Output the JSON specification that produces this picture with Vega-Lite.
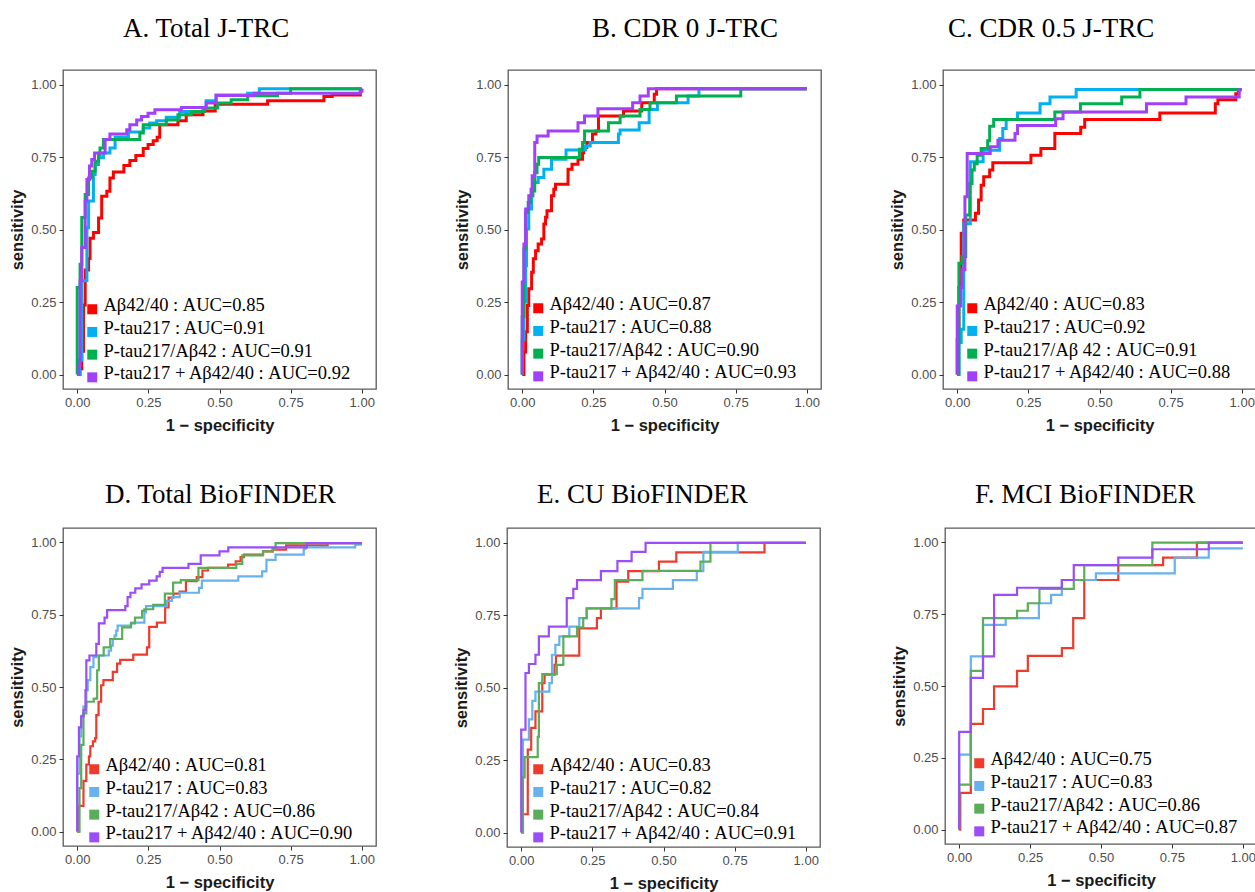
{
"$schema": "https://vega.github.io/schema/vega-lite/v6.json",
"background": "white",
"padding": {"left": 9, "top": 14, "right": 0, "bottom": 0},
"config": {
  "view": {"stroke": "#5A5A5A", "strokeWidth": 1.3},
  "axis": {"domain": false, "grid": false, "tickColor": "#333333", "tickSize": 4, "tickWidth": 1, "labelFont": "Liberation Sans", "labelFontSize": 13, "labelColor": "#4D4D4D", "labelPadding": 3, "titleFont": "Liberation Sans", "titleFontSize": 16.5, "titleFontWeight": "bold", "titleColor": "#1A1A1A"},
  "axisX": {"titlePadding": 8},
  "axisY": {"titlePadding": 5},
  "title": {"font": "Liberation Serif", "fontSize": 27, "fontWeight": "normal", "color": "black", "anchor": "start", "frame": "group", "offset": 27},
  "legend": {"orient": "none", "title": null, "symbolType": "square", "symbolSize": 25, "symbolStrokeWidth": 5, "labelFont": "Liberation Serif", "labelFontSize": 18.5, "labelColor": "black", "labelLimit": 600, "rowPadding": -3.3, "labelOffset": 2, "padding": 0}
},
"datasets": {
  "A": [
    {"s":"Aβ42/40 : AUC=0.85","i":0,"x":0,"y":0},{"s":"Aβ42/40 : AUC=0.85","i":1,"x":0.010,"y":0.02},{"s":"Aβ42/40 : AUC=0.85","i":2,"x":0.016,"y":0.08},{"s":"Aβ42/40 : AUC=0.85","i":3,"x":0.022,"y":0.24},{"s":"Aβ42/40 : AUC=0.85","i":4,"x":0.028,"y":0.36},{"s":"Aβ42/40 : AUC=0.85","i":5,"x":0.040,"y":0.40},{"s":"Aβ42/40 : AUC=0.85","i":6,"x":0.045,"y":0.47},{"s":"Aβ42/40 : AUC=0.85","i":7,"x":0.057,"y":0.49},{"s":"Aβ42/40 : AUC=0.85","i":8,"x":0.075,"y":0.54},{"s":"Aβ42/40 : AUC=0.85","i":9,"x":0.086,"y":0.615},{"s":"Aβ42/40 : AUC=0.85","i":10,"x":0.104,"y":0.632},{"s":"Aβ42/40 : AUC=0.85","i":11,"x":0.115,"y":0.678},{"s":"Aβ42/40 : AUC=0.85","i":12,"x":0.127,"y":0.698},{"s":"Aβ42/40 : AUC=0.85","i":13,"x":0.164,"y":0.721},{"s":"Aβ42/40 : AUC=0.85","i":14,"x":0.185,"y":0.738},{"s":"Aβ42/40 : AUC=0.85","i":15,"x":0.206,"y":0.755},{"s":"Aβ42/40 : AUC=0.85","i":16,"x":0.232,"y":0.779},{"s":"Aβ42/40 : AUC=0.85","i":17,"x":0.249,"y":0.793},{"s":"Aβ42/40 : AUC=0.85","i":18,"x":0.267,"y":0.806},{"s":"Aβ42/40 : AUC=0.85","i":19,"x":0.281,"y":0.818},{"s":"Aβ42/40 : AUC=0.85","i":20,"x":0.290,"y":0.861},{"s":"Aβ42/40 : AUC=0.85","i":21,"x":0.354,"y":0.875},{"s":"Aβ42/40 : AUC=0.85","i":22,"x":0.383,"y":0.896},{"s":"Aβ42/40 : AUC=0.85","i":23,"x":0.442,"y":0.909},{"s":"Aβ42/40 : AUC=0.85","i":24,"x":0.485,"y":0.932},{"s":"Aβ42/40 : AUC=0.85","i":25,"x":0.669,"y":0.944},{"s":"Aβ42/40 : AUC=0.85","i":26,"x":0.867,"y":0.959},{"s":"Aβ42/40 : AUC=0.85","i":27,"x":0.896,"y":0.964},{"s":"Aβ42/40 : AUC=0.85","i":28,"x":0.995,"y":0.978},{"s":"Aβ42/40 : AUC=0.85","i":29,"x":1.0,"y":0.985},
    {"s":"P-tau217 : AUC=0.91","i":0,"x":0,"y":0},{"s":"P-tau217 : AUC=0.91","i":1,"x":0.008,"y":0.05},{"s":"P-tau217 : AUC=0.91","i":2,"x":0.016,"y":0.323},{"s":"P-tau217 : AUC=0.91","i":3,"x":0.034,"y":0.506},{"s":"P-tau217 : AUC=0.91","i":4,"x":0.040,"y":0.598},{"s":"P-tau217 : AUC=0.91","i":5,"x":0.057,"y":0.690},{"s":"P-tau217 : AUC=0.91","i":6,"x":0.063,"y":0.724},{"s":"P-tau217 : AUC=0.91","i":7,"x":0.075,"y":0.747},{"s":"P-tau217 : AUC=0.91","i":8,"x":0.092,"y":0.764},{"s":"P-tau217 : AUC=0.91","i":9,"x":0.115,"y":0.781},{"s":"P-tau217 : AUC=0.91","i":10,"x":0.133,"y":0.818},{"s":"P-tau217 : AUC=0.91","i":11,"x":0.180,"y":0.836},{"s":"P-tau217 : AUC=0.91","i":12,"x":0.232,"y":0.850},{"s":"P-tau217 : AUC=0.91","i":13,"x":0.255,"y":0.867},{"s":"P-tau217 : AUC=0.91","i":14,"x":0.279,"y":0.875},{"s":"P-tau217 : AUC=0.91","i":15,"x":0.313,"y":0.887},{"s":"P-tau217 : AUC=0.91","i":16,"x":0.360,"y":0.907},{"s":"P-tau217 : AUC=0.91","i":17,"x":0.442,"y":0.919},{"s":"P-tau217 : AUC=0.91","i":18,"x":0.453,"y":0.944},{"s":"P-tau217 : AUC=0.91","i":19,"x":0.488,"y":0.964},{"s":"P-tau217 : AUC=0.91","i":20,"x":0.599,"y":0.970},{"s":"P-tau217 : AUC=0.91","i":21,"x":0.640,"y":0.985},{"s":"P-tau217 : AUC=0.91","i":22,"x":1.0,"y":0.985},
    {"s":"P-tau217/Aβ42 : AUC=0.91","i":0,"x":0,"y":0},{"s":"P-tau217/Aβ42 : AUC=0.91","i":1,"x":0,"y":0.30},{"s":"P-tau217/Aβ42 : AUC=0.91","i":2,"x":0.010,"y":0.38},{"s":"P-tau217/Aβ42 : AUC=0.91","i":3,"x":0.016,"y":0.541},{"s":"P-tau217/Aβ42 : AUC=0.91","i":4,"x":0.028,"y":0.621},{"s":"P-tau217/Aβ42 : AUC=0.91","i":5,"x":0.040,"y":0.678},{"s":"P-tau217/Aβ42 : AUC=0.91","i":6,"x":0.051,"y":0.701},{"s":"P-tau217/Aβ42 : AUC=0.91","i":7,"x":0.063,"y":0.735},{"s":"P-tau217/Aβ42 : AUC=0.91","i":8,"x":0.075,"y":0.758},{"s":"P-tau217/Aβ42 : AUC=0.91","i":9,"x":0.080,"y":0.781},{"s":"P-tau217/Aβ42 : AUC=0.91","i":10,"x":0.092,"y":0.810},{"s":"P-tau217/Aβ42 : AUC=0.91","i":11,"x":0.220,"y":0.833},{"s":"P-tau217/Aβ42 : AUC=0.91","i":12,"x":0.232,"y":0.861},{"s":"P-tau217/Aβ42 : AUC=0.91","i":13,"x":0.313,"y":0.878},{"s":"P-tau217/Aβ42 : AUC=0.91","i":14,"x":0.354,"y":0.896},{"s":"P-tau217/Aβ42 : AUC=0.91","i":15,"x":0.401,"y":0.907},{"s":"P-tau217/Aβ42 : AUC=0.91","i":16,"x":0.448,"y":0.919},{"s":"P-tau217/Aβ42 : AUC=0.91","i":17,"x":0.494,"y":0.936},{"s":"P-tau217/Aβ42 : AUC=0.91","i":18,"x":0.541,"y":0.947},{"s":"P-tau217/Aβ42 : AUC=0.91","i":19,"x":0.599,"y":0.961},{"s":"P-tau217/Aβ42 : AUC=0.91","i":20,"x":0.704,"y":0.970},{"s":"P-tau217/Aβ42 : AUC=0.91","i":21,"x":0.750,"y":0.985},{"s":"P-tau217/Aβ42 : AUC=0.91","i":22,"x":1.0,"y":0.985},
    {"s":"P-tau217 + Aβ42/40 : AUC=0.92","i":0,"x":0,"y":0},{"s":"P-tau217 + Aβ42/40 : AUC=0.92","i":1,"x":0.005,"y":0.03},{"s":"P-tau217 + Aβ42/40 : AUC=0.92","i":2,"x":0.010,"y":0.323},{"s":"P-tau217 + Aβ42/40 : AUC=0.92","i":3,"x":0.016,"y":0.438},{"s":"P-tau217 + Aβ42/40 : AUC=0.92","i":4,"x":0.028,"y":0.598},{"s":"P-tau217 + Aβ42/40 : AUC=0.92","i":5,"x":0.034,"y":0.672},{"s":"P-tau217 + Aβ42/40 : AUC=0.92","i":6,"x":0.043,"y":0.719},{"s":"P-tau217 + Aβ42/40 : AUC=0.92","i":7,"x":0.051,"y":0.741},{"s":"P-tau217 + Aβ42/40 : AUC=0.92","i":8,"x":0.061,"y":0.764},{"s":"P-tau217 + Aβ42/40 : AUC=0.92","i":9,"x":0.098,"y":0.810},{"s":"P-tau217 + Aβ42/40 : AUC=0.92","i":10,"x":0.115,"y":0.829},{"s":"P-tau217 + Aβ42/40 : AUC=0.92","i":11,"x":0.174,"y":0.844},{"s":"P-tau217 + Aβ42/40 : AUC=0.92","i":12,"x":0.185,"y":0.861},{"s":"P-tau217 + Aβ42/40 : AUC=0.92","i":13,"x":0.209,"y":0.878},{"s":"P-tau217 + Aβ42/40 : AUC=0.92","i":14,"x":0.226,"y":0.890},{"s":"P-tau217 + Aβ42/40 : AUC=0.92","i":15,"x":0.249,"y":0.901},{"s":"P-tau217 + Aβ42/40 : AUC=0.92","i":16,"x":0.273,"y":0.913},{"s":"P-tau217 + Aβ42/40 : AUC=0.92","i":17,"x":0.366,"y":0.921},{"s":"P-tau217 + Aβ42/40 : AUC=0.92","i":18,"x":0.453,"y":0.936},{"s":"P-tau217 + Aβ42/40 : AUC=0.92","i":19,"x":0.488,"y":0.962},{"s":"P-tau217 + Aβ42/40 : AUC=0.92","i":20,"x":0.622,"y":0.970},{"s":"P-tau217 + Aβ42/40 : AUC=0.92","i":21,"x":0.995,"y":0.978},{"s":"P-tau217 + Aβ42/40 : AUC=0.92","i":22,"x":1.0,"y":0.985}
  ],
  "B": [
    {"s":"Aβ42/40 : AUC=0.87","i":0,"x":0,"y":0},{"s":"Aβ42/40 : AUC=0.87","i":1,"x":0.006,"y":0.078},{"s":"Aβ42/40 : AUC=0.87","i":2,"x":0.012,"y":0.147},{"s":"Aβ42/40 : AUC=0.87","i":3,"x":0.018,"y":0.238},{"s":"Aβ42/40 : AUC=0.87","i":4,"x":0.023,"y":0.296},{"s":"Aβ42/40 : AUC=0.87","i":5,"x":0.033,"y":0.353},{"s":"Aβ42/40 : AUC=0.87","i":6,"x":0.039,"y":0.399},{"s":"Aβ42/40 : AUC=0.87","i":7,"x":0.047,"y":0.427},{"s":"Aβ42/40 : AUC=0.87","i":8,"x":0.056,"y":0.450},{"s":"Aβ42/40 : AUC=0.87","i":9,"x":0.068,"y":0.467},{"s":"Aβ42/40 : AUC=0.87","i":10,"x":0.076,"y":0.519},{"s":"Aβ42/40 : AUC=0.87","i":11,"x":0.082,"y":0.542},{"s":"Aβ42/40 : AUC=0.87","i":12,"x":0.087,"y":0.565},{"s":"Aβ42/40 : AUC=0.87","i":13,"x":0.103,"y":0.616},{"s":"Aβ42/40 : AUC=0.87","i":14,"x":0.111,"y":0.639},{"s":"Aβ42/40 : AUC=0.87","i":15,"x":0.117,"y":0.656},{"s":"Aβ42/40 : AUC=0.87","i":16,"x":0.161,"y":0.708},{"s":"Aβ42/40 : AUC=0.87","i":17,"x":0.175,"y":0.725},{"s":"Aβ42/40 : AUC=0.87","i":18,"x":0.196,"y":0.742},{"s":"Aβ42/40 : AUC=0.87","i":19,"x":0.212,"y":0.765},{"s":"Aβ42/40 : AUC=0.87","i":20,"x":0.216,"y":0.783},{"s":"Aβ42/40 : AUC=0.87","i":21,"x":0.227,"y":0.800},{"s":"Aβ42/40 : AUC=0.87","i":22,"x":0.247,"y":0.829},{"s":"Aβ42/40 : AUC=0.87","i":23,"x":0.259,"y":0.840},{"s":"Aβ42/40 : AUC=0.87","i":24,"x":0.268,"y":0.891},{"s":"Aβ42/40 : AUC=0.87","i":25,"x":0.356,"y":0.909},{"s":"Aβ42/40 : AUC=0.87","i":26,"x":0.420,"y":0.937},{"s":"Aβ42/40 : AUC=0.87","i":27,"x":0.464,"y":0.966},{"s":"Aβ42/40 : AUC=0.87","i":28,"x":0.472,"y":0.985},{"s":"Aβ42/40 : AUC=0.87","i":29,"x":1.0,"y":0.985},
    {"s":"P-tau217 : AUC=0.88","i":0,"x":0,"y":0},{"s":"P-tau217 : AUC=0.88","i":1,"x":0,"y":0.12},{"s":"P-tau217 : AUC=0.88","i":2,"x":0.006,"y":0.25},{"s":"P-tau217 : AUC=0.88","i":3,"x":0.012,"y":0.375},{"s":"P-tau217 : AUC=0.88","i":4,"x":0.015,"y":0.502},{"s":"P-tau217 : AUC=0.88","i":5,"x":0.023,"y":0.571},{"s":"P-tau217 : AUC=0.88","i":6,"x":0.033,"y":0.616},{"s":"P-tau217 : AUC=0.88","i":7,"x":0.037,"y":0.662},{"s":"P-tau217 : AUC=0.88","i":8,"x":0.056,"y":0.679},{"s":"P-tau217 : AUC=0.88","i":9,"x":0.076,"y":0.708},{"s":"P-tau217 : AUC=0.88","i":10,"x":0.103,"y":0.742},{"s":"P-tau217 : AUC=0.88","i":11,"x":0.154,"y":0.774},{"s":"P-tau217 : AUC=0.88","i":12,"x":0.222,"y":0.788},{"s":"P-tau217 : AUC=0.88","i":13,"x":0.239,"y":0.800},{"s":"P-tau217 : AUC=0.88","i":14,"x":0.338,"y":0.829},{"s":"P-tau217 : AUC=0.88","i":15,"x":0.344,"y":0.843},{"s":"P-tau217 : AUC=0.88","i":16,"x":0.411,"y":0.868},{"s":"P-tau217 : AUC=0.88","i":17,"x":0.446,"y":0.914},{"s":"P-tau217 : AUC=0.88","i":18,"x":0.475,"y":0.937},{"s":"P-tau217 : AUC=0.88","i":19,"x":0.583,"y":0.960},{"s":"P-tau217 : AUC=0.88","i":20,"x":0.621,"y":0.985},{"s":"P-tau217 : AUC=0.88","i":21,"x":1.0,"y":0.985},
    {"s":"P-tau217/Aβ42 : AUC=0.90","i":0,"x":0,"y":0},{"s":"P-tau217/Aβ42 : AUC=0.90","i":1,"x":0,"y":0.20},{"s":"P-tau217/Aβ42 : AUC=0.90","i":2,"x":0.006,"y":0.433},{"s":"P-tau217/Aβ42 : AUC=0.90","i":3,"x":0.012,"y":0.559},{"s":"P-tau217/Aβ42 : AUC=0.90","i":4,"x":0.021,"y":0.593},{"s":"P-tau217/Aβ42 : AUC=0.90","i":5,"x":0.029,"y":0.616},{"s":"P-tau217/Aβ42 : AUC=0.90","i":6,"x":0.037,"y":0.633},{"s":"P-tau217/Aβ42 : AUC=0.90","i":7,"x":0.044,"y":0.696},{"s":"P-tau217/Aβ42 : AUC=0.90","i":8,"x":0.052,"y":0.725},{"s":"P-tau217/Aβ42 : AUC=0.90","i":9,"x":0.058,"y":0.748},{"s":"P-tau217/Aβ42 : AUC=0.90","i":10,"x":0.201,"y":0.777},{"s":"P-tau217/Aβ42 : AUC=0.90","i":11,"x":0.212,"y":0.800},{"s":"P-tau217/Aβ42 : AUC=0.90","i":12,"x":0.219,"y":0.840},{"s":"P-tau217/Aβ42 : AUC=0.90","i":13,"x":0.303,"y":0.868},{"s":"P-tau217/Aβ42 : AUC=0.90","i":14,"x":0.344,"y":0.891},{"s":"P-tau217/Aβ42 : AUC=0.90","i":15,"x":0.414,"y":0.914},{"s":"P-tau217/Aβ42 : AUC=0.90","i":16,"x":0.449,"y":0.937},{"s":"P-tau217/Aβ42 : AUC=0.90","i":17,"x":0.542,"y":0.960},{"s":"P-tau217/Aβ42 : AUC=0.90","i":18,"x":0.768,"y":0.985},{"s":"P-tau217/Aβ42 : AUC=0.90","i":19,"x":1.0,"y":0.985},
    {"s":"P-tau217 + Aβ42/40 : AUC=0.93","i":0,"x":0,"y":0},{"s":"P-tau217 + Aβ42/40 : AUC=0.93","i":1,"x":0,"y":0.319},{"s":"P-tau217 + Aβ42/40 : AUC=0.93","i":2,"x":0.006,"y":0.45},{"s":"P-tau217 + Aβ42/40 : AUC=0.93","i":3,"x":0.012,"y":0.571},{"s":"P-tau217 + Aβ42/40 : AUC=0.93","i":4,"x":0.023,"y":0.616},{"s":"P-tau217 + Aβ42/40 : AUC=0.93","i":5,"x":0.031,"y":0.639},{"s":"P-tau217 + Aβ42/40 : AUC=0.93","i":6,"x":0.035,"y":0.685},{"s":"P-tau217 + Aβ42/40 : AUC=0.93","i":7,"x":0.044,"y":0.800},{"s":"P-tau217 + Aβ42/40 : AUC=0.93","i":8,"x":0.052,"y":0.822},{"s":"P-tau217 + Aβ42/40 : AUC=0.93","i":9,"x":0.091,"y":0.840},{"s":"P-tau217 + Aβ42/40 : AUC=0.93","i":10,"x":0.196,"y":0.868},{"s":"P-tau217 + Aβ42/40 : AUC=0.93","i":11,"x":0.219,"y":0.891},{"s":"P-tau217 + Aβ42/40 : AUC=0.93","i":12,"x":0.266,"y":0.916},{"s":"P-tau217 + Aβ42/40 : AUC=0.93","i":13,"x":0.388,"y":0.937},{"s":"P-tau217 + Aβ42/40 : AUC=0.93","i":14,"x":0.414,"y":0.960},{"s":"P-tau217 + Aβ42/40 : AUC=0.93","i":15,"x":0.443,"y":0.985},{"s":"P-tau217 + Aβ42/40 : AUC=0.93","i":16,"x":1.0,"y":0.985}
  ],
  "C": [
    {"s":"Aβ42/40 : AUC=0.83","i":0,"x":0,"y":0},{"s":"Aβ42/40 : AUC=0.83","i":1,"x":0,"y":0.12},{"s":"Aβ42/40 : AUC=0.83","i":2,"x":0.006,"y":0.30},{"s":"Aβ42/40 : AUC=0.83","i":3,"x":0.014,"y":0.487},{"s":"Aβ42/40 : AUC=0.83","i":4,"x":0.023,"y":0.533},{"s":"Aβ42/40 : AUC=0.83","i":5,"x":0.064,"y":0.556},{"s":"Aβ42/40 : AUC=0.83","i":6,"x":0.075,"y":0.602},{"s":"Aβ42/40 : AUC=0.83","i":7,"x":0.084,"y":0.653},{"s":"Aβ42/40 : AUC=0.83","i":8,"x":0.093,"y":0.682},{"s":"Aβ42/40 : AUC=0.83","i":9,"x":0.114,"y":0.705},{"s":"Aβ42/40 : AUC=0.83","i":10,"x":0.125,"y":0.730},{"s":"Aβ42/40 : AUC=0.83","i":11,"x":0.259,"y":0.756},{"s":"Aβ42/40 : AUC=0.83","i":12,"x":0.294,"y":0.779},{"s":"Aβ42/40 : AUC=0.83","i":13,"x":0.343,"y":0.831},{"s":"Aβ42/40 : AUC=0.83","i":14,"x":0.434,"y":0.853},{"s":"Aβ42/40 : AUC=0.83","i":15,"x":0.448,"y":0.879},{"s":"Aβ42/40 : AUC=0.83","i":16,"x":0.712,"y":0.902},{"s":"Aβ42/40 : AUC=0.83","i":17,"x":0.907,"y":0.934},{"s":"Aβ42/40 : AUC=0.83","i":18,"x":0.916,"y":0.947},{"s":"Aβ42/40 : AUC=0.83","i":19,"x":0.979,"y":0.968},{"s":"Aβ42/40 : AUC=0.83","i":20,"x":0.988,"y":0.982},{"s":"Aβ42/40 : AUC=0.83","i":21,"x":1.0,"y":0.982},
    {"s":"P-tau217 : AUC=0.92","i":0,"x":0,"y":0},{"s":"P-tau217 : AUC=0.92","i":1,"x":0.006,"y":0.11},{"s":"P-tau217 : AUC=0.92","i":2,"x":0.014,"y":0.156},{"s":"P-tau217 : AUC=0.92","i":3,"x":0.023,"y":0.52},{"s":"P-tau217 : AUC=0.92","i":4,"x":0.046,"y":0.734},{"s":"P-tau217 : AUC=0.92","i":5,"x":0.091,"y":0.773},{"s":"P-tau217 : AUC=0.92","i":6,"x":0.149,"y":0.814},{"s":"P-tau217 : AUC=0.92","i":7,"x":0.160,"y":0.848},{"s":"P-tau217 : AUC=0.92","i":8,"x":0.172,"y":0.879},{"s":"P-tau217 : AUC=0.92","i":9,"x":0.212,"y":0.902},{"s":"P-tau217 : AUC=0.92","i":10,"x":0.291,"y":0.934},{"s":"P-tau217 : AUC=0.92","i":11,"x":0.326,"y":0.957},{"s":"P-tau217 : AUC=0.92","i":12,"x":0.418,"y":0.983},{"s":"P-tau217 : AUC=0.92","i":13,"x":1.0,"y":0.983},
    {"s":"P-tau217/Aβ 42 : AUC=0.91","i":0,"x":0,"y":0},{"s":"P-tau217/Aβ 42 : AUC=0.91","i":1,"x":0.006,"y":0.384},{"s":"P-tau217/Aβ 42 : AUC=0.91","i":2,"x":0.017,"y":0.407},{"s":"P-tau217/Aβ 42 : AUC=0.91","i":3,"x":0.030,"y":0.55},{"s":"P-tau217/Aβ 42 : AUC=0.91","i":4,"x":0.044,"y":0.659},{"s":"P-tau217/Aβ 42 : AUC=0.91","i":5,"x":0.052,"y":0.705},{"s":"P-tau217/Aβ 42 : AUC=0.91","i":6,"x":0.060,"y":0.727},{"s":"P-tau217/Aβ 42 : AUC=0.91","i":7,"x":0.070,"y":0.756},{"s":"P-tau217/Aβ 42 : AUC=0.91","i":8,"x":0.084,"y":0.779},{"s":"P-tau217/Aβ 42 : AUC=0.91","i":9,"x":0.107,"y":0.806},{"s":"P-tau217/Aβ 42 : AUC=0.91","i":10,"x":0.114,"y":0.856},{"s":"P-tau217/Aβ 42 : AUC=0.91","i":11,"x":0.128,"y":0.879},{"s":"P-tau217/Aβ 42 : AUC=0.91","i":12,"x":0.343,"y":0.905},{"s":"P-tau217/Aβ 42 : AUC=0.91","i":13,"x":0.433,"y":0.934},{"s":"P-tau217/Aβ 42 : AUC=0.91","i":14,"x":0.578,"y":0.957},{"s":"P-tau217/Aβ 42 : AUC=0.91","i":15,"x":0.642,"y":0.983},{"s":"P-tau217/Aβ 42 : AUC=0.91","i":16,"x":1.0,"y":0.983},
    {"s":"P-tau217 + Aβ42/40 : AUC=0.88","i":0,"x":0,"y":0},{"s":"P-tau217 + Aβ42/40 : AUC=0.88","i":1,"x":0,"y":0.236},{"s":"P-tau217 + Aβ42/40 : AUC=0.88","i":2,"x":0.012,"y":0.30},{"s":"P-tau217 + Aβ42/40 : AUC=0.88","i":3,"x":0.017,"y":0.361},{"s":"P-tau217 + Aβ42/40 : AUC=0.88","i":4,"x":0.027,"y":0.613},{"s":"P-tau217 + Aβ42/40 : AUC=0.88","i":5,"x":0.035,"y":0.762},{"s":"P-tau217 + Aβ42/40 : AUC=0.88","i":6,"x":0.116,"y":0.785},{"s":"P-tau217 + Aβ42/40 : AUC=0.88","i":7,"x":0.143,"y":0.808},{"s":"P-tau217 + Aβ42/40 : AUC=0.88","i":8,"x":0.203,"y":0.831},{"s":"P-tau217 + Aβ42/40 : AUC=0.88","i":9,"x":0.212,"y":0.859},{"s":"P-tau217 + Aβ42/40 : AUC=0.88","i":10,"x":0.346,"y":0.882},{"s":"P-tau217 + Aβ42/40 : AUC=0.88","i":11,"x":0.372,"y":0.905},{"s":"P-tau217 + Aβ42/40 : AUC=0.88","i":12,"x":0.665,"y":0.934},{"s":"P-tau217 + Aβ42/40 : AUC=0.88","i":13,"x":0.804,"y":0.957},{"s":"P-tau217 + Aβ42/40 : AUC=0.88","i":14,"x":0.991,"y":0.982},{"s":"P-tau217 + Aβ42/40 : AUC=0.88","i":15,"x":1.0,"y":0.982}
  ],
  "D": [
    {"s":"Aβ42/40 : AUC=0.81","i":0,"x":0,"y":0},{"s":"Aβ42/40 : AUC=0.81","i":1,"x":0.006,"y":0.089},{"s":"Aβ42/40 : AUC=0.81","i":2,"x":0.022,"y":0.175},{"s":"Aβ42/40 : AUC=0.81","i":3,"x":0.032,"y":0.232},{"s":"Aβ42/40 : AUC=0.81","i":4,"x":0.041,"y":0.26},{"s":"Aβ42/40 : AUC=0.81","i":5,"x":0.046,"y":0.295},{"s":"Aβ42/40 : AUC=0.81","i":6,"x":0.055,"y":0.312},{"s":"Aβ42/40 : AUC=0.81","i":7,"x":0.063,"y":0.323},{"s":"Aβ42/40 : AUC=0.81","i":8,"x":0.067,"y":0.403},{"s":"Aβ42/40 : AUC=0.81","i":9,"x":0.075,"y":0.449},{"s":"Aβ42/40 : AUC=0.81","i":10,"x":0.084,"y":0.506},{"s":"Aβ42/40 : AUC=0.81","i":11,"x":0.092,"y":0.524},{"s":"Aβ42/40 : AUC=0.81","i":12,"x":0.125,"y":0.552},{"s":"Aβ42/40 : AUC=0.81","i":13,"x":0.140,"y":0.581},{"s":"Aβ42/40 : AUC=0.81","i":14,"x":0.151,"y":0.594},{"s":"Aβ42/40 : AUC=0.81","i":15,"x":0.197,"y":0.612},{"s":"Aβ42/40 : AUC=0.81","i":16,"x":0.245,"y":0.637},{"s":"Aβ42/40 : AUC=0.81","i":17,"x":0.253,"y":0.708},{"s":"Aβ42/40 : AUC=0.81","i":18,"x":0.280,"y":0.723},{"s":"Aβ42/40 : AUC=0.81","i":19,"x":0.309,"y":0.775},{"s":"Aβ42/40 : AUC=0.81","i":20,"x":0.321,"y":0.809},{"s":"Aβ42/40 : AUC=0.81","i":21,"x":0.338,"y":0.823},{"s":"Aβ42/40 : AUC=0.81","i":22,"x":0.360,"y":0.830},{"s":"Aβ42/40 : AUC=0.81","i":23,"x":0.382,"y":0.866},{"s":"Aβ42/40 : AUC=0.81","i":24,"x":0.420,"y":0.880},{"s":"Aβ42/40 : AUC=0.81","i":25,"x":0.440,"y":0.903},{"s":"Aβ42/40 : AUC=0.81","i":26,"x":0.460,"y":0.912},{"s":"Aβ42/40 : AUC=0.81","i":27,"x":0.530,"y":0.923},{"s":"Aβ42/40 : AUC=0.81","i":28,"x":0.557,"y":0.935},{"s":"Aβ42/40 : AUC=0.81","i":29,"x":0.574,"y":0.949},{"s":"Aβ42/40 : AUC=0.81","i":30,"x":0.586,"y":0.958},{"s":"Aβ42/40 : AUC=0.81","i":31,"x":0.653,"y":0.969},{"s":"Aβ42/40 : AUC=0.81","i":32,"x":0.687,"y":0.975},{"s":"Aβ42/40 : AUC=0.81","i":33,"x":0.734,"y":0.990},{"s":"Aβ42/40 : AUC=0.81","i":34,"x":0.880,"y":0.998},{"s":"Aβ42/40 : AUC=0.81","i":35,"x":1.0,"y":0.998},
    {"s":"P-tau217 : AUC=0.83","i":0,"x":0,"y":0},{"s":"P-tau217 : AUC=0.83","i":1,"x":0,"y":0.20},{"s":"P-tau217 : AUC=0.83","i":2,"x":0.008,"y":0.329},{"s":"P-tau217 : AUC=0.83","i":3,"x":0.014,"y":0.40},{"s":"P-tau217 : AUC=0.83","i":4,"x":0.022,"y":0.432},{"s":"P-tau217 : AUC=0.83","i":5,"x":0.032,"y":0.489},{"s":"P-tau217 : AUC=0.83","i":6,"x":0.037,"y":0.524},{"s":"P-tau217 : AUC=0.83","i":7,"x":0.046,"y":0.569},{"s":"P-tau217 : AUC=0.83","i":8,"x":0.057,"y":0.603},{"s":"P-tau217 : AUC=0.83","i":9,"x":0.067,"y":0.609},{"s":"P-tau217 : AUC=0.83","i":10,"x":0.111,"y":0.626},{"s":"P-tau217 : AUC=0.83","i":11,"x":0.119,"y":0.643},{"s":"P-tau217 : AUC=0.83","i":12,"x":0.125,"y":0.666},{"s":"P-tau217 : AUC=0.83","i":13,"x":0.131,"y":0.678},{"s":"P-tau217 : AUC=0.83","i":14,"x":0.137,"y":0.695},{"s":"P-tau217 : AUC=0.83","i":15,"x":0.142,"y":0.712},{"s":"P-tau217 : AUC=0.83","i":16,"x":0.189,"y":0.723},{"s":"P-tau217 : AUC=0.83","i":17,"x":0.236,"y":0.758},{"s":"P-tau217 : AUC=0.83","i":18,"x":0.242,"y":0.780},{"s":"P-tau217 : AUC=0.83","i":19,"x":0.314,"y":0.798},{"s":"P-tau217 : AUC=0.83","i":20,"x":0.333,"y":0.811},{"s":"P-tau217 : AUC=0.83","i":21,"x":0.360,"y":0.826},{"s":"P-tau217 : AUC=0.83","i":22,"x":0.428,"y":0.843},{"s":"P-tau217 : AUC=0.83","i":23,"x":0.438,"y":0.868},{"s":"P-tau217 : AUC=0.83","i":24,"x":0.566,"y":0.883},{"s":"P-tau217 : AUC=0.83","i":25,"x":0.650,"y":0.900},{"s":"P-tau217 : AUC=0.83","i":26,"x":0.665,"y":0.940},{"s":"P-tau217 : AUC=0.83","i":27,"x":0.697,"y":0.958},{"s":"P-tau217 : AUC=0.83","i":28,"x":0.796,"y":0.978},{"s":"P-tau217 : AUC=0.83","i":29,"x":0.802,"y":0.983},{"s":"P-tau217 : AUC=0.83","i":30,"x":0.977,"y":0.992},{"s":"P-tau217 : AUC=0.83","i":31,"x":1.0,"y":0.992},
    {"s":"P-tau217/Aβ42 : AUC=0.86","i":0,"x":0,"y":0},{"s":"P-tau217/Aβ42 : AUC=0.86","i":1,"x":0.008,"y":0.15},{"s":"P-tau217/Aβ42 : AUC=0.86","i":2,"x":0.014,"y":0.30},{"s":"P-tau217/Aβ42 : AUC=0.86","i":3,"x":0.022,"y":0.409},{"s":"P-tau217/Aβ42 : AUC=0.86","i":4,"x":0.032,"y":0.449},{"s":"P-tau217/Aβ42 : AUC=0.86","i":5,"x":0.058,"y":0.460},{"s":"P-tau217/Aβ42 : AUC=0.86","i":6,"x":0.070,"y":0.558},{"s":"P-tau217/Aβ42 : AUC=0.86","i":7,"x":0.076,"y":0.609},{"s":"P-tau217/Aβ42 : AUC=0.86","i":8,"x":0.093,"y":0.637},{"s":"P-tau217/Aβ42 : AUC=0.86","i":9,"x":0.116,"y":0.666},{"s":"P-tau217/Aβ42 : AUC=0.86","i":10,"x":0.158,"y":0.706},{"s":"P-tau217/Aβ42 : AUC=0.86","i":11,"x":0.189,"y":0.720},{"s":"P-tau217/Aβ42 : AUC=0.86","i":12,"x":0.203,"y":0.740},{"s":"P-tau217/Aβ42 : AUC=0.86","i":13,"x":0.228,"y":0.763},{"s":"P-tau217/Aβ42 : AUC=0.86","i":14,"x":0.236,"y":0.769},{"s":"P-tau217/Aβ42 : AUC=0.86","i":15,"x":0.267,"y":0.784},{"s":"P-tau217/Aβ42 : AUC=0.86","i":16,"x":0.308,"y":0.823},{"s":"P-tau217/Aβ42 : AUC=0.86","i":17,"x":0.337,"y":0.861},{"s":"P-tau217/Aβ42 : AUC=0.86","i":18,"x":0.364,"y":0.870},{"s":"P-tau217/Aβ42 : AUC=0.86","i":19,"x":0.426,"y":0.912},{"s":"P-tau217/Aβ42 : AUC=0.86","i":20,"x":0.559,"y":0.926},{"s":"P-tau217/Aβ42 : AUC=0.86","i":21,"x":0.580,"y":0.955},{"s":"P-tau217/Aβ42 : AUC=0.86","i":22,"x":0.653,"y":0.969},{"s":"P-tau217/Aβ42 : AUC=0.86","i":23,"x":0.687,"y":0.978},{"s":"P-tau217/Aβ42 : AUC=0.86","i":24,"x":0.697,"y":0.998},{"s":"P-tau217/Aβ42 : AUC=0.86","i":25,"x":1.0,"y":0.998},
    {"s":"P-tau217 + Aβ42/40 : AUC=0.90","i":0,"x":0,"y":0},{"s":"P-tau217 + Aβ42/40 : AUC=0.90","i":1,"x":0,"y":0.26},{"s":"P-tau217 + Aβ42/40 : AUC=0.90","i":2,"x":0.006,"y":0.36},{"s":"P-tau217 + Aβ42/40 : AUC=0.90","i":3,"x":0.014,"y":0.398},{"s":"P-tau217 + Aβ42/40 : AUC=0.90","i":4,"x":0.022,"y":0.420},{"s":"P-tau217 + Aβ42/40 : AUC=0.90","i":5,"x":0.029,"y":0.489},{"s":"P-tau217 + Aβ42/40 : AUC=0.90","i":6,"x":0.032,"y":0.592},{"s":"P-tau217 + Aβ42/40 : AUC=0.90","i":7,"x":0.043,"y":0.609},{"s":"P-tau217 + Aβ42/40 : AUC=0.90","i":8,"x":0.067,"y":0.649},{"s":"P-tau217 + Aβ42/40 : AUC=0.90","i":9,"x":0.076,"y":0.720},{"s":"P-tau217 + Aβ42/40 : AUC=0.90","i":10,"x":0.096,"y":0.740},{"s":"P-tau217 + Aβ42/40 : AUC=0.90","i":11,"x":0.105,"y":0.766},{"s":"P-tau217 + Aβ42/40 : AUC=0.90","i":12,"x":0.169,"y":0.780},{"s":"P-tau217 + Aβ42/40 : AUC=0.90","i":13,"x":0.177,"y":0.811},{"s":"P-tau217 + Aβ42/40 : AUC=0.90","i":14,"x":0.187,"y":0.826},{"s":"P-tau217 + Aβ42/40 : AUC=0.90","i":15,"x":0.204,"y":0.841},{"s":"P-tau217 + Aβ42/40 : AUC=0.90","i":16,"x":0.226,"y":0.855},{"s":"P-tau217 + Aβ42/40 : AUC=0.90","i":17,"x":0.253,"y":0.868},{"s":"P-tau217 + Aβ42/40 : AUC=0.90","i":18,"x":0.279,"y":0.883},{"s":"P-tau217 + Aβ42/40 : AUC=0.90","i":19,"x":0.290,"y":0.898},{"s":"P-tau217 + Aβ42/40 : AUC=0.90","i":20,"x":0.300,"y":0.912},{"s":"P-tau217 + Aβ42/40 : AUC=0.90","i":21,"x":0.391,"y":0.926},{"s":"P-tau217 + Aβ42/40 : AUC=0.90","i":22,"x":0.434,"y":0.955},{"s":"P-tau217 + Aβ42/40 : AUC=0.90","i":23,"x":0.500,"y":0.969},{"s":"P-tau217 + Aβ42/40 : AUC=0.90","i":24,"x":0.531,"y":0.983},{"s":"P-tau217 + Aβ42/40 : AUC=0.90","i":25,"x":0.807,"y":0.998},{"s":"P-tau217 + Aβ42/40 : AUC=0.90","i":26,"x":1.0,"y":0.998}
  ],
  "E": [
    {"s":"Aβ42/40 : AUC=0.83","i":0,"x":0,"y":0},{"s":"Aβ42/40 : AUC=0.83","i":1,"x":0.006,"y":0.063},{"s":"Aβ42/40 : AUC=0.83","i":2,"x":0.023,"y":0.286},{"s":"Aβ42/40 : AUC=0.83","i":3,"x":0.035,"y":0.361},{"s":"Aβ42/40 : AUC=0.83","i":4,"x":0.050,"y":0.418},{"s":"Aβ42/40 : AUC=0.83","i":5,"x":0.074,"y":0.515},{"s":"Aβ42/40 : AUC=0.83","i":6,"x":0.082,"y":0.544},{"s":"Aβ42/40 : AUC=0.83","i":7,"x":0.117,"y":0.578},{"s":"Aβ42/40 : AUC=0.83","i":8,"x":0.122,"y":0.610},{"s":"Aβ42/40 : AUC=0.83","i":9,"x":0.204,"y":0.704},{"s":"Aβ42/40 : AUC=0.83","i":10,"x":0.266,"y":0.739},{"s":"Aβ42/40 : AUC=0.83","i":11,"x":0.280,"y":0.773},{"s":"Aβ42/40 : AUC=0.83","i":12,"x":0.335,"y":0.865},{"s":"Aβ42/40 : AUC=0.83","i":13,"x":0.376,"y":0.901},{"s":"Aβ42/40 : AUC=0.83","i":14,"x":0.484,"y":0.934},{"s":"Aβ42/40 : AUC=0.83","i":15,"x":0.545,"y":0.966},{"s":"Aβ42/40 : AUC=0.83","i":16,"x":0.855,"y":0.999},{"s":"Aβ42/40 : AUC=0.83","i":17,"x":1.0,"y":0.999},
    {"s":"P-tau217 : AUC=0.82","i":0,"x":0,"y":0},{"s":"P-tau217 : AUC=0.82","i":1,"x":0.006,"y":0.32},{"s":"P-tau217 : AUC=0.82","i":2,"x":0.027,"y":0.390},{"s":"P-tau217 : AUC=0.82","i":3,"x":0.039,"y":0.454},{"s":"P-tau217 : AUC=0.82","i":4,"x":0.050,"y":0.486},{"s":"P-tau217 : AUC=0.82","i":5,"x":0.099,"y":0.515},{"s":"P-tau217 : AUC=0.82","i":6,"x":0.108,"y":0.613},{"s":"P-tau217 : AUC=0.82","i":7,"x":0.120,"y":0.647},{"s":"P-tau217 : AUC=0.82","i":8,"x":0.134,"y":0.676},{"s":"P-tau217 : AUC=0.82","i":9,"x":0.169,"y":0.710},{"s":"P-tau217 : AUC=0.82","i":10,"x":0.204,"y":0.739},{"s":"P-tau217 : AUC=0.82","i":11,"x":0.230,"y":0.773},{"s":"P-tau217 : AUC=0.82","i":12,"x":0.414,"y":0.808},{"s":"P-tau217 : AUC=0.82","i":13,"x":0.426,"y":0.840},{"s":"P-tau217 : AUC=0.82","i":14,"x":0.533,"y":0.870},{"s":"P-tau217 : AUC=0.82","i":15,"x":0.617,"y":0.901},{"s":"P-tau217 : AUC=0.82","i":16,"x":0.640,"y":0.968},{"s":"P-tau217 : AUC=0.82","i":17,"x":0.761,"y":0.999},{"s":"P-tau217 : AUC=0.82","i":18,"x":1.0,"y":0.999},
    {"s":"P-tau217/Aβ42 : AUC=0.84","i":0,"x":0,"y":0},{"s":"P-tau217/Aβ42 : AUC=0.84","i":1,"x":0.006,"y":0.19},{"s":"P-tau217/Aβ42 : AUC=0.84","i":2,"x":0.012,"y":0.26},{"s":"P-tau217/Aβ42 : AUC=0.84","i":3,"x":0.058,"y":0.33},{"s":"P-tau217/Aβ42 : AUC=0.84","i":4,"x":0.062,"y":0.515},{"s":"P-tau217/Aβ42 : AUC=0.84","i":5,"x":0.074,"y":0.546},{"s":"P-tau217/Aβ42 : AUC=0.84","i":6,"x":0.125,"y":0.578},{"s":"P-tau217/Aβ42 : AUC=0.84","i":7,"x":0.148,"y":0.676},{"s":"P-tau217/Aβ42 : AUC=0.84","i":8,"x":0.196,"y":0.707},{"s":"P-tau217/Aβ42 : AUC=0.84","i":9,"x":0.218,"y":0.739},{"s":"P-tau217/Aβ42 : AUC=0.84","i":10,"x":0.230,"y":0.773},{"s":"P-tau217/Aβ42 : AUC=0.84","i":11,"x":0.317,"y":0.805},{"s":"P-tau217/Aβ42 : AUC=0.84","i":12,"x":0.329,"y":0.870},{"s":"P-tau217/Aβ42 : AUC=0.84","i":13,"x":0.426,"y":0.902},{"s":"P-tau217/Aβ42 : AUC=0.84","i":14,"x":0.630,"y":0.934},{"s":"P-tau217/Aβ42 : AUC=0.84","i":15,"x":0.665,"y":0.999},{"s":"P-tau217/Aβ42 : AUC=0.84","i":16,"x":1.0,"y":0.999},
    {"s":"P-tau217 + Aβ42/40 : AUC=0.91","i":0,"x":0,"y":0},{"s":"P-tau217 + Aβ42/40 : AUC=0.91","i":1,"x":0,"y":0.355},{"s":"P-tau217 + Aβ42/40 : AUC=0.91","i":2,"x":0.015,"y":0.550},{"s":"P-tau217 + Aβ42/40 : AUC=0.91","i":3,"x":0.027,"y":0.581},{"s":"P-tau217 + Aβ42/40 : AUC=0.91","i":4,"x":0.050,"y":0.613},{"s":"P-tau217 + Aβ42/40 : AUC=0.91","i":5,"x":0.062,"y":0.676},{"s":"P-tau217 + Aβ42/40 : AUC=0.91","i":6,"x":0.097,"y":0.710},{"s":"P-tau217 + Aβ42/40 : AUC=0.91","i":7,"x":0.160,"y":0.808},{"s":"P-tau217 + Aβ42/40 : AUC=0.91","i":8,"x":0.183,"y":0.840},{"s":"P-tau217 + Aβ42/40 : AUC=0.91","i":9,"x":0.196,"y":0.870},{"s":"P-tau217 + Aβ42/40 : AUC=0.91","i":10,"x":0.280,"y":0.901},{"s":"P-tau217 + Aβ42/40 : AUC=0.91","i":11,"x":0.338,"y":0.936},{"s":"P-tau217 + Aβ42/40 : AUC=0.91","i":12,"x":0.388,"y":0.968},{"s":"P-tau217 + Aβ42/40 : AUC=0.91","i":13,"x":0.437,"y":0.999},{"s":"P-tau217 + Aβ42/40 : AUC=0.91","i":14,"x":1.0,"y":0.999}
  ],
  "F": [
    {"s":"Aβ42/40 : AUC=0.75","i":0,"x":0,"y":0},{"s":"Aβ42/40 : AUC=0.75","i":1,"x":0.004,"y":0.128},{"s":"Aβ42/40 : AUC=0.75","i":2,"x":0.041,"y":0.368},{"s":"Aβ42/40 : AUC=0.75","i":3,"x":0.084,"y":0.420},{"s":"Aβ42/40 : AUC=0.75","i":4,"x":0.123,"y":0.499},{"s":"Aβ42/40 : AUC=0.75","i":5,"x":0.204,"y":0.553},{"s":"Aβ42/40 : AUC=0.75","i":6,"x":0.242,"y":0.605},{"s":"Aβ42/40 : AUC=0.75","i":7,"x":0.362,"y":0.632},{"s":"Aβ42/40 : AUC=0.75","i":8,"x":0.402,"y":0.736},{"s":"Aβ42/40 : AUC=0.75","i":9,"x":0.441,"y":0.869},{"s":"Aβ42/40 : AUC=0.75","i":10,"x":0.561,"y":0.921},{"s":"Aβ42/40 : AUC=0.75","i":11,"x":0.719,"y":0.947},{"s":"Aβ42/40 : AUC=0.75","i":12,"x":0.838,"y":0.999},{"s":"Aβ42/40 : AUC=0.75","i":13,"x":1.0,"y":0.999},
    {"s":"P-tau217 : AUC=0.83","i":0,"x":0,"y":0},{"s":"P-tau217 : AUC=0.83","i":1,"x":0,"y":0.261},{"s":"P-tau217 : AUC=0.83","i":2,"x":0.041,"y":0.603},{"s":"P-tau217 : AUC=0.83","i":3,"x":0.084,"y":0.713},{"s":"P-tau217 : AUC=0.83","i":4,"x":0.164,"y":0.736},{"s":"P-tau217 : AUC=0.83","i":5,"x":0.281,"y":0.788},{"s":"P-tau217 : AUC=0.83","i":6,"x":0.324,"y":0.817},{"s":"P-tau217 : AUC=0.83","i":7,"x":0.362,"y":0.869},{"s":"P-tau217 : AUC=0.83","i":8,"x":0.482,"y":0.892},{"s":"P-tau217 : AUC=0.83","i":9,"x":0.760,"y":0.947},{"s":"P-tau217 : AUC=0.83","i":10,"x":0.880,"y":0.979},{"s":"P-tau217 : AUC=0.83","i":11,"x":1.0,"y":0.979},
    {"s":"P-tau217/Aβ42 : AUC=0.86","i":0,"x":0,"y":0},{"s":"P-tau217/Aβ42 : AUC=0.86","i":1,"x":0,"y":0.157},{"s":"P-tau217/Aβ42 : AUC=0.86","i":2,"x":0.041,"y":0.553},{"s":"P-tau217/Aβ42 : AUC=0.86","i":3,"x":0.084,"y":0.736},{"s":"P-tau217/Aβ42 : AUC=0.86","i":4,"x":0.204,"y":0.762},{"s":"P-tau217/Aβ42 : AUC=0.86","i":5,"x":0.242,"y":0.788},{"s":"P-tau217/Aβ42 : AUC=0.86","i":6,"x":0.283,"y":0.838},{"s":"P-tau217/Aβ42 : AUC=0.86","i":7,"x":0.404,"y":0.869},{"s":"P-tau217/Aβ42 : AUC=0.86","i":8,"x":0.441,"y":0.921},{"s":"P-tau217/Aβ42 : AUC=0.86","i":9,"x":0.681,"y":0.999},{"s":"P-tau217/Aβ42 : AUC=0.86","i":10,"x":1.0,"y":0.999},
    {"s":"P-tau217 + Aβ42/40 : AUC=0.87","i":0,"x":0,"y":0},{"s":"P-tau217 + Aβ42/40 : AUC=0.87","i":1,"x":0,"y":0.340},{"s":"P-tau217 + Aβ42/40 : AUC=0.87","i":2,"x":0.041,"y":0.528},{"s":"P-tau217 + Aβ42/40 : AUC=0.87","i":3,"x":0.084,"y":0.603},{"s":"P-tau217 + Aβ42/40 : AUC=0.87","i":4,"x":0.123,"y":0.817},{"s":"P-tau217 + Aβ42/40 : AUC=0.87","i":5,"x":0.204,"y":0.842},{"s":"P-tau217 + Aβ42/40 : AUC=0.87","i":6,"x":0.362,"y":0.869},{"s":"P-tau217 + Aβ42/40 : AUC=0.87","i":7,"x":0.404,"y":0.921},{"s":"P-tau217 + Aβ42/40 : AUC=0.87","i":8,"x":0.561,"y":0.947},{"s":"P-tau217 + Aβ42/40 : AUC=0.87","i":9,"x":0.681,"y":0.976},{"s":"P-tau217 + Aβ42/40 : AUC=0.87","i":10,"x":0.880,"y":0.999},{"s":"P-tau217 + Aβ42/40 : AUC=0.87","i":11,"x":1.0,"y":0.999}
  ]
},
"spacing": 45,
"resolve": {"scale": {"color": "independent"}, "legend": {"color": "independent"}},
"vconcat": [
  {
    "spacing": 77,
    "resolve": {"scale": {"color": "independent"}, "legend": {"color": "independent"}},
    "hconcat": [
      {
        "width": 313, "height": 319,
        "title": {"text": "A. Total J-TRC", "dx": 60},
        "data": {"name": "A"},
        "mark": {"type": "line", "interpolate": "step-after", "strokeWidth": 3},
        "encoding": {
          "x": {"field": "x", "type": "quantitative", "scale": {"domain": [-0.05, 1.05], "nice": false, "zero": false}, "axis": {"values": [0, 0.25, 0.5, 0.75, 1], "format": ".2f", "title": "1 − specificity"}},
          "y": {"field": "y", "type": "quantitative", "scale": {"domain": [-0.05, 1.05], "nice": false, "zero": false}, "axis": {"values": [0, 0.25, 0.5, 0.75, 1], "format": ".2f", "title": "sensitivity"}},
          "color": {"field": "s", "type": "nominal", "scale": {"domain": ["Aβ42/40 : AUC=0.85", "P-tau217 : AUC=0.91", "P-tau217/Aβ42 : AUC=0.91", "P-tau217 + Aβ42/40 : AUC=0.92"], "range": ["#FF0000", "#00B0F0", "#00B050", "#A040F8"]}, "legend": {"legendX": 20, "legendY": 230, "encode": {"labels": {"update": {"dy": {"value": -4}}}}}},
          "order": {"field": "i", "type": "quantitative"}
        }
      },
      {
        "spacing": 67,
        "resolve": {"scale": {"color": "independent"}, "legend": {"color": "independent"}},
        "hconcat": [
          {
            "width": 313, "height": 319,
            "title": {"text": "B. CDR 0 J-TRC", "dx": 84},
            "data": {"name": "B"},
            "mark": {"type": "line", "interpolate": "step-after", "strokeWidth": 3},
            "encoding": {
              "x": {"field": "x", "type": "quantitative", "scale": {"domain": [-0.05, 1.05], "nice": false, "zero": false}, "axis": {"values": [0, 0.25, 0.5, 0.75, 1], "format": ".2f", "title": "1 − specificity"}},
              "y": {"field": "y", "type": "quantitative", "scale": {"domain": [-0.05, 1.05], "nice": false, "zero": false}, "axis": {"values": [0, 0.25, 0.5, 0.75, 1], "format": ".2f", "title": "sensitivity"}},
              "color": {"field": "s", "type": "nominal", "scale": {"domain": ["Aβ42/40 : AUC=0.87", "P-tau217 : AUC=0.88", "P-tau217/Aβ42 : AUC=0.90", "P-tau217 + Aβ42/40 : AUC=0.93"], "range": ["#FF0000", "#00B0F0", "#00B050", "#A040F8"]}, "legend": {"legendX": 21, "legendY": 229, "encode": {"labels": {"update": {"dy": {"value": -4}}}}}},
              "order": {"field": "i", "type": "quantitative"}
            }
          },
          {
            "width": 313, "height": 319,
            "title": {"text": "C. CDR 0.5 J-TRC", "dx": 5},
            "data": {"name": "C"},
            "mark": {"type": "line", "interpolate": "step-after", "strokeWidth": 3},
            "encoding": {
              "x": {"field": "x", "type": "quantitative", "scale": {"domain": [-0.05, 1.05], "nice": false, "zero": false}, "axis": {"values": [0, 0.25, 0.5, 0.75, 1], "format": ".2f", "title": "1 − specificity"}},
              "y": {"field": "y", "type": "quantitative", "scale": {"domain": [-0.05, 1.05], "nice": false, "zero": false}, "axis": {"values": [0, 0.25, 0.5, 0.75, 1], "format": ".2f", "title": "sensitivity"}},
              "color": {"field": "s", "type": "nominal", "scale": {"domain": ["Aβ42/40 : AUC=0.83", "P-tau217 : AUC=0.92", "P-tau217/Aβ 42 : AUC=0.91", "P-tau217 + Aβ42/40 : AUC=0.88"], "range": ["#FF0000", "#00B0F0", "#00B050", "#A040F8"]}, "legend": {"legendX": 20, "legendY": 229, "encode": {"labels": {"update": {"dy": {"value": -4}}}}}},
              "order": {"field": "i", "type": "quantitative"}
            }
          }
        ]
      }
    ]
  },
  {
    "spacing": 76,
    "resolve": {"scale": {"color": "independent"}, "legend": {"color": "independent"}},
    "hconcat": [
      {
        "width": 313, "height": 318,
        "title": {"text": "D. Total BioFINDER", "dx": 42, "offset": 19},
        "data": {"name": "D"},
        "mark": {"type": "line", "interpolate": "step-after", "strokeWidth": 2.2},
        "encoding": {
          "x": {"field": "x", "type": "quantitative", "scale": {"domain": [-0.05, 1.05], "nice": false, "zero": false}, "axis": {"values": [0, 0.25, 0.5, 0.75, 1], "format": ".2f", "title": "1 − specificity"}},
          "y": {"field": "y", "type": "quantitative", "scale": {"domain": [-0.05, 1.05], "nice": false, "zero": false}, "axis": {"values": [0, 0.25, 0.5, 0.75, 1], "format": ".2f", "title": "sensitivity"}},
          "color": {"field": "s", "type": "nominal", "scale": {"domain": ["Aβ42/40 : AUC=0.81", "P-tau217 : AUC=0.83", "P-tau217/Aβ42 : AUC=0.86", "P-tau217 + Aβ42/40 : AUC=0.90"], "range": ["#EE3B2B", "#66B2EE", "#5AAE5A", "#9B4DFA"]}, "legend": {"legendX": 22, "legendY": 232, "encode": {"labels": {"update": {"dy": {"value": -4}}}}}},
          "order": {"field": "i", "type": "quantitative"}
        }
      },
      {
        "spacing": 70,
        "resolve": {"scale": {"color": "independent"}, "legend": {"color": "independent"}},
        "hconcat": [
          {
            "width": 313, "height": 319,
            "title": {"text": "E. CU BioFINDER", "dx": 30, "offset": 19},
            "data": {"name": "E"},
            "mark": {"type": "line", "interpolate": "step-after", "strokeWidth": 2.2},
            "encoding": {
              "x": {"field": "x", "type": "quantitative", "scale": {"domain": [-0.05, 1.05], "nice": false, "zero": false}, "axis": {"values": [0, 0.25, 0.5, 0.75, 1], "format": ".2f", "title": "1 − specificity"}},
              "y": {"field": "y", "type": "quantitative", "scale": {"domain": [-0.05, 1.05], "nice": false, "zero": false}, "axis": {"values": [0, 0.25, 0.5, 0.75, 1], "format": ".2f", "title": "sensitivity"}},
              "color": {"field": "s", "type": "nominal", "scale": {"domain": ["Aβ42/40 : AUC=0.83", "P-tau217 : AUC=0.82", "P-tau217/Aβ42 : AUC=0.84", "P-tau217 + Aβ42/40 : AUC=0.91"], "range": ["#EE3B2B", "#66B2EE", "#5AAE5A", "#9B4DFA"]}, "legend": {"legendX": 22, "legendY": 232, "encode": {"labels": {"update": {"dy": {"value": -4}}}}}},
              "order": {"field": "i", "type": "quantitative"}
            }
          },
          {
            "width": 312, "height": 316,
            "title": {"text": "F. MCI BioFINDER", "dx": 30, "offset": 19},
            "data": {"name": "F"},
            "mark": {"type": "line", "interpolate": "step-after", "strokeWidth": 2.2},
            "encoding": {
              "x": {"field": "x", "type": "quantitative", "scale": {"domain": [-0.05, 1.05], "nice": false, "zero": false}, "axis": {"values": [0, 0.25, 0.5, 0.75, 1], "format": ".2f", "title": "1 − specificity"}},
              "y": {"field": "y", "type": "quantitative", "scale": {"domain": [-0.05, 1.05], "nice": false, "zero": false}, "axis": {"values": [0, 0.25, 0.5, 0.75, 1], "format": ".2f", "title": "sensitivity"}},
              "color": {"field": "s", "type": "nominal", "scale": {"domain": ["Aβ42/40 : AUC=0.75", "P-tau217 : AUC=0.83", "P-tau217/Aβ42 : AUC=0.86", "P-tau217 + Aβ42/40 : AUC=0.87"], "range": ["#EE3B2B", "#66B2EE", "#5AAE5A", "#9B4DFA"]}, "legend": {"legendX": 25, "legendY": 226, "encode": {"labels": {"update": {"dy": {"value": -4}}}}}},
              "order": {"field": "i", "type": "quantitative"}
            }
          }
        ]
      }
    ]
  }
]
}
